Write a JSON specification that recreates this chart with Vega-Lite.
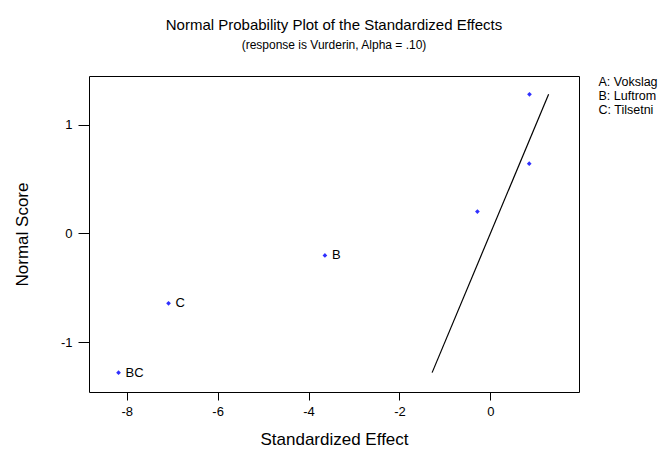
{
  "$schema": "https://vega.github.io/schema/vega-lite/v6.json",
  "width": 490,
  "height": 316,
  "autosize": {"type": "none"},
  "padding": {"left": 89, "top": 76, "right": 93, "bottom": 68},
  "background": "white",
  "config": {
    "font": "Liberation Sans",
    "view": {"stroke": "black", "strokeWidth": 1},
    "axis": {"domain": false, "grid": false, "tickColor": "black", "labelColor": "black", "titleColor": "black", "titleFontWeight": "normal", "labelFontSize": 13, "titleFontSize": 17, "tickSize": 8, "labelPadding": 4, "labelExpr": "'' + datum.value"}
  },
  "title": {
    "text": "Normal Probability Plot of the Standardized Effects",
    "subtitle": "(response is Vurderin, Alpha = .10)",
    "anchor": "middle",
    "fontSize": 15,
    "fontWeight": "normal",
    "subtitleFontSize": 12,
    "subtitlePadding": 7,
    "offset": 25,
    "color": "black",
    "subtitleColor": "black"
  },
  "layer": [
    {
      "data": {"values": [
        {"effect": -8.18, "score": -1.2816, "label": "BC"},
        {"effect": -7.08, "score": -0.643, "label": "C"},
        {"effect": -3.64, "score": -0.2019, "label": "B"},
        {"effect": -0.285, "score": 0.2019, "label": ""},
        {"effect": 0.855, "score": 0.643, "label": ""},
        {"effect": 0.86, "score": 1.2816, "label": ""}
      ]},
      "layer": [
        {
          "mark": {"type": "point", "shape": "diamond", "filled": true, "color": "#2f2fff", "size": 22, "opacity": 1},
          "encoding": {
            "x": {"field": "effect", "type": "quantitative", "scale": {"domain": [-8.83, 1.95], "nice": false, "zero": false}, "axis": {"title": "Standardized Effect", "values": [-8, -6, -4, -2, 0], "titlePadding": 13, "labelPadding": 5}},
            "y": {"field": "score", "type": "quantitative", "scale": {"domain": [-1.46, 1.45], "nice": false, "zero": false}, "axis": {"title": "Normal Score", "values": [-1, 0, 1], "titlePadding": 29, "tickSize": 11, "labelPadding": 6}}
          }
        },
        {
          "mark": {"type": "text", "align": "left", "baseline": "middle", "dx": 7, "fontSize": 13, "color": "black"},
          "encoding": {
            "x": {"field": "effect", "type": "quantitative"},
            "y": {"field": "score", "type": "quantitative"},
            "text": {"field": "label"}
          }
        }
      ]
    },
    {
      "data": {"values": [
        {"effect": -1.2816, "score": -1.2816},
        {"effect": 1.2816, "score": 1.2816}
      ]},
      "mark": {"type": "line", "color": "black", "strokeWidth": 1.2},
      "encoding": {
        "x": {"field": "effect", "type": "quantitative"},
        "y": {"field": "score", "type": "quantitative"}
      }
    },
    {
      "data": {"values": [
        {"factor": "A:  Vokslag"},
        {"factor": "B:  Luftrom"},
        {"factor": "C:  Tilsetni"}
      ]},
      "mark": {"type": "point", "opacity": 0},
      "encoding": {
        "color": {"field": "factor", "type": "nominal", "scale": {"range": ["black", "black", "black"]}, "legend": {"title": null, "orient": "right", "offset": 7, "padding": 0, "symbolSize": 0, "symbolOpacity": 0, "symbolStrokeWidth": 0, "labelOffset": 0, "labelFontSize": 12.5, "labelColor": "black", "rowPadding": 1, "labelLimit": 200}}
      }
    }
  ]
}
